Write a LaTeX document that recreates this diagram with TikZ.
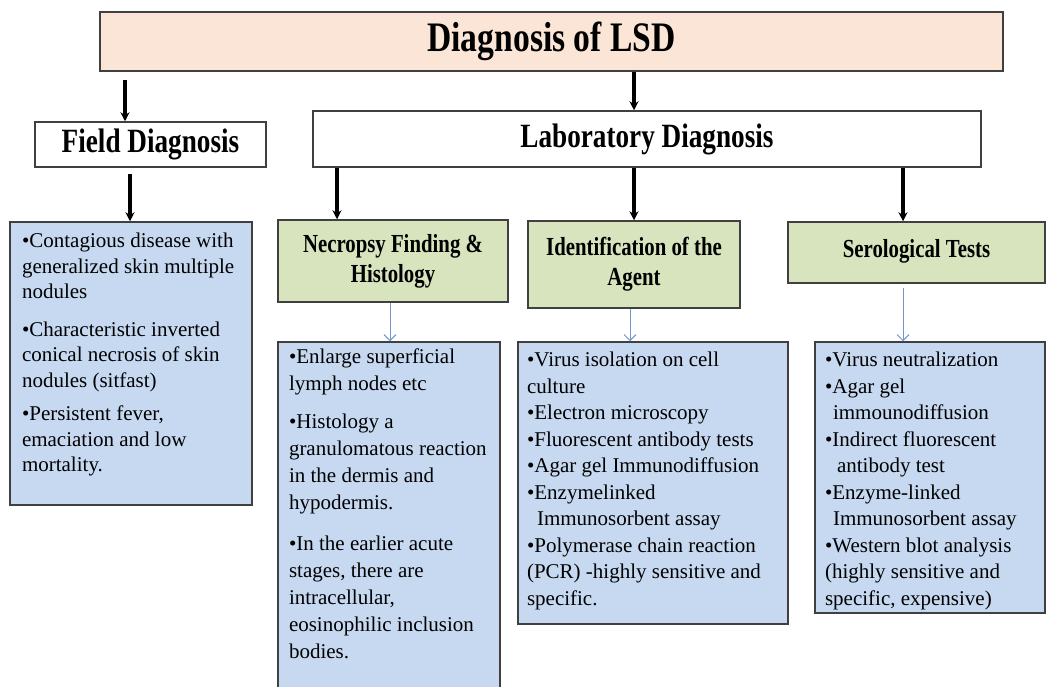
\documentclass[tikz,border=0pt]{standalone}
\usepackage{fontspec}
\setmainfont{Liberation Serif}
\newfontfamily\headfont[FakeStretch=0.8]{Liberation Serif}
\usepackage{tikz}
\usetikzlibrary{positioning,arrows.meta}
\definecolor{edge}{HTML}{404040}
\definecolor{peach}{HTML}{FBE5D6}
\definecolor{leaf}{HTML}{D7E4BD}
\definecolor{sky}{HTML}{C6D9F1}
\definecolor{link}{HTML}{7396C8}

\begin{document}
\begin{tikzpicture}[x=1pt,y=-1pt,line width=1.5pt,
    box/.style={rectangle,draw=edge,inner sep=0pt},
    titlebox/.style={box,fill=peach,font=\headfont\bfseries\fontsize{42}{46}\selectfont},
    headbox/.style={box,fill=white,font=\headfont\bfseries\fontsize{34}{38}\selectfont},
    testbox/.style={box,fill=leaf,align=center,font=\headfont\bfseries\fontsize{26}{30}\selectfont},
    listbox/.style={box,fill=sky},
    listtext/.style={inner sep=0pt,anchor=north west,align=left,font=\fontsize{21}{26.5}\selectfont},
    bigarrow/.style={-{Stealth[length=9pt,width=9pt]},line width=3.5pt,black},
    thinarrow/.style={-{Straight Barb[length=6pt,width=12pt]},line width=1pt,link}]
        \useasboundingbox (0,0) rectangle (1048,686);
        \clip (0,0) rectangle (1048,686);
        %top levels
            \draw (551.5,41.5) node(title) [titlebox,minimum width=903pt,minimum height=59pt] {Diagnosis of LSD}
                  (150.5,144.5) node(field) [headbox,minimum width=231pt,minimum height=45pt] {Field Diagnosis}
                  (647,139) node(lab) [headbox,minimum width=668pt,minimum height=56pt] {Laboratory Diagnosis};

        %lab branches
            \draw (393,261) node(necro) [testbox,minimum width=230pt,minimum height=82pt] {Necropsy Finding \&\\Histology}
                  (634,264.5) node(ident) [testbox,minimum width=212pt,minimum height=87pt] {\raisebox{7pt}{\begin{tabular}{@{}c@{}}Identification of the\\Agent\end{tabular}}}
                  (916.5,252.5) node(sero) [testbox,minimum width=257pt,minimum height=61pt] {\raisebox{9pt}{Serological Tests}};

        %lists
            \draw (131,363.5) node(fieldlist) [listbox,minimum width=242pt,minimum height=283pt] {}
                  (389,521) node(necrolist) [listbox,minimum width=222pt,minimum height=358pt] {}
                  (653,483) node(identlist) [listbox,minimum width=270pt,minimum height=282pt] {}
                  (930,477.5) node(serolist) [listbox,minimum width=230pt,minimum height=271pt] {};

            \node(fieldtxt) [listtext,below right=11pt and 12pt of fieldlist.north west,font=\fontsize{21}{25.5}\selectfont]
                {•Contagious disease with\\generalized skin multiple\\nodules\\[12pt]
                 •Characteristic inverted\\conical necrosis of skin\\nodules (sitfast)\\[8pt]
                 •Persistent fever,\\emaciation and low\\mortality.};
            \node(necrotxt) [listtext,below right=7pt and 11pt of necrolist.north west,font=\fontsize{21}{27}\selectfont]
                {•Enlarge superficial\\lymph nodes etc\\[11pt]
                 •Histology a\\granulomatous reaction\\in the dermis and\\hypodermis.\\[14pt]
                 •In the earlier acute\\stages, there are\\intracellular,\\eosinophilic inclusion\\bodies.};
            \node(identtxt) [listtext,below right=10pt and 9pt of identlist.north west]
                {•Virus isolation on cell\\culture\\•Electron microscopy\\•Fluorescent antibody tests\\
                 •Agar gel Immunodiffusion\\•Enzymelinked\\\hspace*{10pt}Immunosorbent assay\\
                 •Polymerase chain reaction\\(PCR) -highly sensitive and\\specific.};
            \node(serotxt) [listtext,below right=10pt and 10pt of serolist.north west]
                {•Virus neutralization\\•Agar gel\\\hspace*{8pt}immounodiffusion\\•Indirect fluorescent\\
                 \hspace*{12pt}antibody test\\•Enzyme-linked\\\hspace*{8pt}Immunosorbent assay\\
                 •Western blot analysis\\(highly sensitive and\\specific, expensive)};

        %arrows
            \coordinate (tf) at (125,0);
            \coordinate (tl) at (634,0);
            \coordinate (fl) at (130,0);
            \draw[bigarrow,shorten <=8pt] (title.south -| tf) to (field.north -| tf);
            \draw[bigarrow] (title.south -| tl) to (lab.north -| tl);
            \draw[bigarrow,shorten <=6pt] (field.south -| fl) to (fieldlist.north -| fl);
            \foreach \x/\b in {337/necro,634/ident,903/sero}{
                \coordinate (k) at (\x,0);
                \draw[bigarrow] (lab.south -| k) to (\b.north -| k);
            }
            \foreach \x/\a/\b/\s in {390/necro/necrolist/0,630/ident/identlist/0,903/sero/serolist/4}{
                \coordinate (k) at (\x,0);
                \draw[thinarrow,shorten <=\s pt] (\a.south -| k) to (\b.north -| k);
            }
        \end{tikzpicture}
\end{document}
